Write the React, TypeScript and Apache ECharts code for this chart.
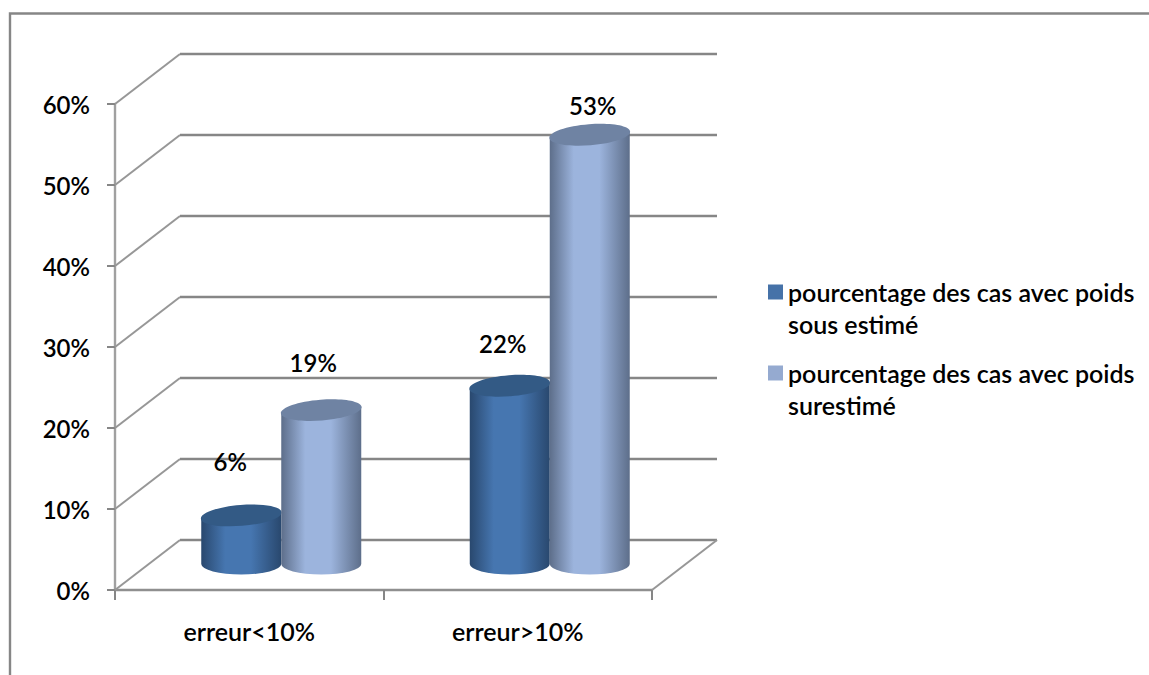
import React, { useEffect, useRef } from "react";
import * as echarts from "echarts";

const categories = ["erreur<10%", "erreur>10%"];
const sousEstime = [6, 22];
const surestime = [19, 53];
const yTicks = [0, 10, 20, 30, 40, 50, 60];
const seriesNames = [
  "pourcentage des cas avec poids\nsous estimé",
  "pourcentage des cas avec poids\nsurestimé",
];

const FONT = "Lato";
const TEXT_SIZE = 24;
const WIDE_TEXT_SIZE = 25;
const TEXT_WEIGHT = 600;
const AXIS_GREY = "#868686";
const WALL_DX = 65;
const WALL_DY = -50;
const BAR_DX = 32;
const BAR_DY = -26;
const BAR_RX = 40;
const BAR_RY = 10.5;
const TILT = 3;

// Hand-placed value labels, offset from the centre of each cylinder's top.
const labelOffsets = [
  [[-11, -54], [-7, -42]],
  [[-8, -48], [3, -29]],
];

const darkPalette = { flat: "#4672a8", top: "#335a85", edge: "#29486e", mid: "#4676b0" };
const lightPalette = { flat: "#95aad0", top: "#6f83a3", edge: "#5d6e8a", mid: "#9cb4dd" };

// Legend swatch sits on the first line of a two-line entry; the zero-length
// segments stretch the icon's box to the full height of the entry.
const legendIcon = "path://M0 0L0 0M0 8.5L15 8.5L15 23.5L0 23.5ZM0 64L0 64";

function wallItem(params: any, api: any) {
  const value = api.value(1);
  const cs = params.coordSys;
  const y = api.coord([0, value])[1];
  const left = cs.x;
  const right = cs.x + cs.width;
  const children: any[] = [
    {
      type: "line",
      shape: { x1: left, y1: y, x2: left + WALL_DX, y2: y + WALL_DY },
      style: { stroke: "#979797", lineWidth: 2 },
    },
    {
      type: "line",
      shape: { x1: left + WALL_DX, y1: y + WALL_DY, x2: right + WALL_DX, y2: y + WALL_DY },
      style: { stroke: AXIS_GREY, lineWidth: 2.4 },
    },
  ];
  if (value === 0) {
    children.push({
      type: "line",
      shape: { x1: right, y1: y, x2: right + WALL_DX, y2: y + WALL_DY },
      style: { stroke: "#979797", lineWidth: 2 },
    });
  }
  return { type: "group", children };
}

function cylinderItem(side: number, palette: typeof darkPalette, seriesIndex: number) {
  return (params: any, api: any) => {
    const cat = api.value(0);
    const value = api.value(1);
    const top = api.coord([cat, value]);
    const base = api.coord([cat, 0]);
    const cx = top[0] + BAR_DX + side * BAR_RX;
    const topY = top[1] + BAR_DY;
    const baseY = base[1] + BAR_DY;
    const l = cx - BAR_RX;
    const r = cx + BAR_RX;
    const body =
      `M${l} ${topY + TILT}L${l} ${baseY}` +
      `A${BAR_RX} ${BAR_RY} 0 0 0 ${r} ${baseY}` +
      `L${r} ${topY - TILT}Z`;
    const off = labelOffsets[seriesIndex][cat];
    return {
      type: "group",
      children: [
        {
          type: "path",
          shape: { pathData: body },
          style: {
            fill: new echarts.graphic.LinearGradient(0, 0, 1, 0, [
              { offset: 0, color: palette.edge },
              { offset: 0.3, color: palette.mid },
              { offset: 0.62, color: palette.mid },
              { offset: 1, color: palette.edge },
            ]),
          },
        },
        {
          type: "ellipse",
          x: cx,
          y: topY,
          rotation: 0.08,
          shape: { cx: 0, cy: 0, rx: BAR_RX + 0.5, ry: BAR_RY },
          style: { fill: palette.top },
        },
        {
          type: "text",
          style: {
            text: `${value}%`,
            x: cx + off[0],
            y: topY + off[1],
            font: `${TEXT_WEIGHT} ${TEXT_SIZE}px ${FONT}`,
            fill: "#000",
            align: "center",
            verticalAlign: "middle",
          },
        },
      ],
    };
  };
}

export default function App() {
  const ref = useRef<HTMLDivElement>(null);

  useEffect(() => {
    document.body.style.margin = "0";
    const chart = echarts.init(ref.current!, undefined, { renderer: "svg" });
    chart.setOption({
      animation: false,
      backgroundColor: "#fff",
      textStyle: { fontFamily: FONT },
      graphic: [
        {
          type: "polyline",
          silent: true,
          shape: { points: [[10, 675], [10, 13.5], [1149, 13.5]] },
          style: { stroke: AXIS_GREY, lineWidth: 2.4, fill: "none" },
        },
      ],
      grid: { left: 115, top: 104, width: 537, height: 486 },
      xAxis: {
        type: "category",
        data: categories,
        axisLine: { lineStyle: { color: "#8f8f8f", width: 2.4 } },
        axisTick: { show: true, length: 10, lineStyle: { color: AXIS_GREY, width: 2 } },
        axisLabel: { margin: 28, fontSize: WIDE_TEXT_SIZE, fontWeight: TEXT_WEIGHT, fontFamily: FONT, color: "#000" },
      },
      yAxis: {
        type: "value",
        min: 0,
        max: 60,
        interval: 10,
        splitLine: { show: false },
        axisLine: { show: true, lineStyle: { color: "#a0a0a0", width: 2.4 } },
        axisTick: { show: true, length: 8, lineStyle: { color: AXIS_GREY, width: 2 } },
        axisLabel: {
          margin: 25,
          fontSize: TEXT_SIZE,
          fontWeight: TEXT_WEIGHT,
          fontFamily: FONT,
          color: "#000",
          formatter: (v: number) => `${v}%`,
        },
      },
      legend: {
        data: seriesNames,
        orient: "vertical",
        left: 768,
        top: 276,
        padding: 0,
        itemWidth: 15,
        itemHeight: 64,
        itemGap: 17,
        icon: legendIcon,
        selectedMode: false,
        textStyle: { fontSize: WIDE_TEXT_SIZE, fontWeight: TEXT_WEIGHT, lineHeight: 32, fontFamily: FONT, color: "#000" },
      },
      series: [
        {
          type: "custom",
          name: "parois",
          z: 1,
          silent: true,
          renderItem: wallItem,
          data: yTicks.map((v) => [0, v]),
        },
        {
          type: "custom",
          name: seriesNames[0],
          z: 3,
          silent: true,
          itemStyle: { color: darkPalette.flat },
          renderItem: cylinderItem(-1, darkPalette, 0),
          data: sousEstime.map((v, i) => [i, v]),
        },
        {
          type: "custom",
          name: seriesNames[1],
          z: 4,
          silent: true,
          itemStyle: { color: lightPalette.flat },
          renderItem: cylinderItem(1, lightPalette, 1),
          data: surestime.map((v, i) => [i, v]),
        },
      ],
    });
    return () => chart.dispose();
  }, []);

  return <div ref={ref} style={{ position: "absolute", left: 0, top: 0, width: 1149, height: 675 }} />;
}
